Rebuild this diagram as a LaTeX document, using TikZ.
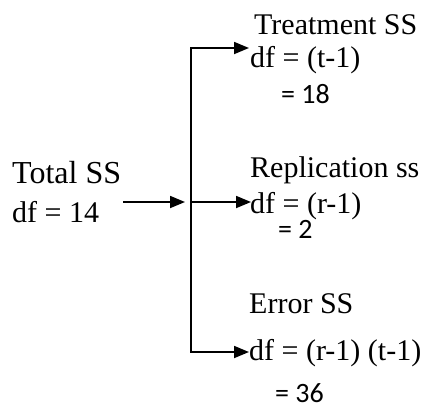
\documentclass[tikz,border=0pt]{standalone}
\usepackage{fontspec}
\setmainfont{Liberation Serif}
\newfontfamily\calfont{Carlito}
\usetikzlibrary{arrows.meta}
\begin{document}
\begin{tikzpicture}[x=1pt,y=-1pt,
  txt/.style={anchor=base west,inner sep=0pt,font=\fontsize{30}{36}\selectfont},
  num/.style={anchor=base west,inner sep=0pt,font=\calfont\fontsize{28}{32}\selectfont},
  ln/.style={line width=1.8pt},
  arr/.style={line width=1.8pt,-{Triangle[length=15pt,width=12pt]}}]
\useasboundingbox (0,0) rectangle (435,405);
% texts
\node[txt,font=\fontsize{32}{36}\selectfont] (total) at (12,183) {Total SS};
\node[txt] (tdf) at (12,222) {df = 14};
\node[txt] (treat) at (254,34) {Treatment SS};
\node[txt] (treatdf) at (250,67) {df = (t-1)};
\node[num] (treatn) at (281,103) {= 18};
\node[txt] (rep) at (250,177) {Replication ss};
\node[txt] (repdf) at (250,213) {df = (r-1)};
\node[num] (repn) at (278,238) {= 2};
\node[txt] (err) at (249,313) {Error SS};
\node[txt] (errdf) at (249,360) {df = (r-1) (t-1)};
\node[num] (errn) at (275,402) {= 36};
% connectors
\coordinate (src) at (123,202);
\coordinate (junc) at (185,202);
\coordinate (vtop) at (191,48);
\coordinate (vmid) at (191,202);
\coordinate (vbot) at (191,352);
\coordinate (ttip) at (249,48);
\coordinate (mtip) at (251,202);
\coordinate (btip) at (249,352);
\draw[arr] (src) -- (junc);
\draw[ln] (vtop) -- (vbot);
\draw[arr] ([xshift=-0.9pt]vtop) -- (ttip);
\draw[arr] (vmid) -- (mtip);
\draw[arr] ([xshift=-0.9pt]vbot) -- (btip);
\end{tikzpicture}
\end{document}
